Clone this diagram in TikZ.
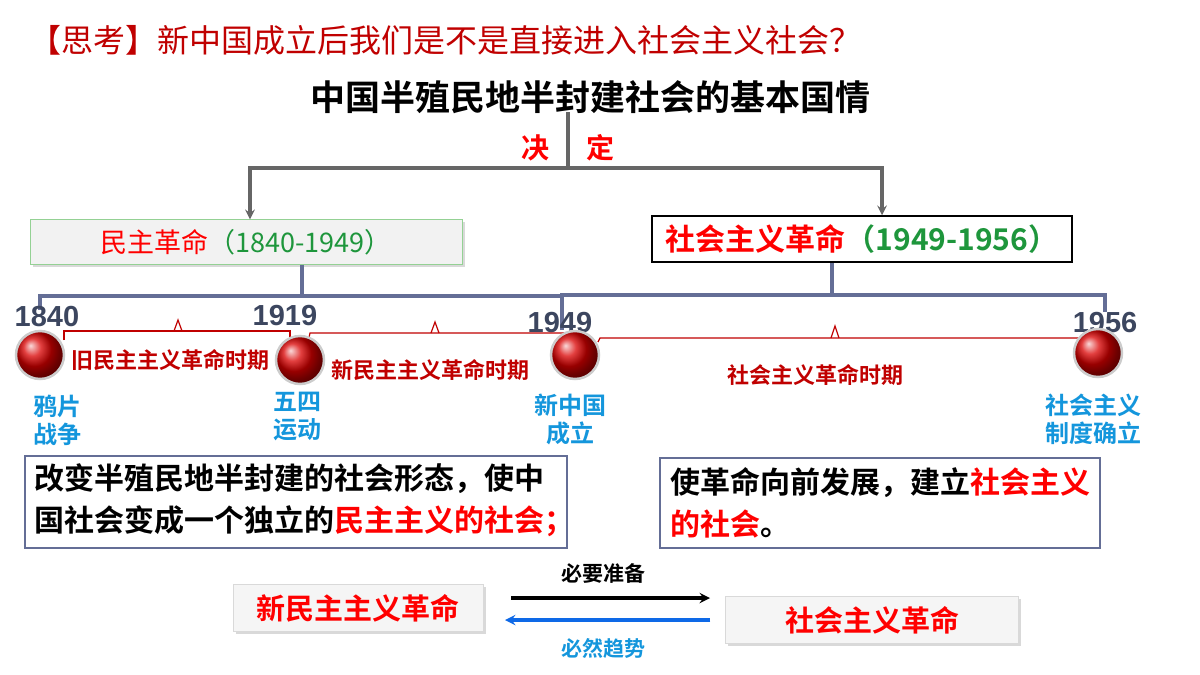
\documentclass[tikz,border=0pt]{standalone}
\usetikzlibrary{shadows}
\usepackage{fontspec}
\setmainfont{Noto Sans CJK SC}
\newfontfamily\cjkb{Noto Sans CJK SC Bold}
\newfontfamily\latb{Liberation Sans Bold}
\definecolor{dred}{RGB}{192,0,0}
\definecolor{slate}{RGB}{100,110,150}
\definecolor{yr}{RGB}{60,70,95}
\definecolor{evb}{RGB}{20,150,220}
\definecolor{grn}{RGB}{30,150,60}
\begin{document}
\begin{tikzpicture}[x=1pt,y=-1pt,
  bline/.style={slate,line width=3.2pt},
  gline/.style={gray!80!black,line width=3.2pt},
  rb/.style={dred,line width=1.2pt},
  dot/.style={circle,minimum size=48pt,inner sep=0pt,ball color=red!85!black,shading=ball,draw=gray!40,line width=2.5pt},
  yrl/.style={font=\latb\fontsize{29}{29}\selectfont,text=yr},
  per/.style={font=\cjkb\fontsize{22}{22}\selectfont,text=dred},
  ev/.style={font=\cjkb\fontsize{24}{28}\selectfont,text=evb,align=center},
  txt/.style={font=\cjkb\fontsize{30}{42}\selectfont,align=left,anchor=north west}]
\useasboundingbox (0,0) rectangle (1200,675);
% title
\node[anchor=west,text=dred,font=\fontsize{32}{32}\selectfont] (t) at (26,40) {【思考】新中国成立后我们是不是直接进入社会主义社会？};
\node[font=\cjkb\fontsize{35}{35}\selectfont] (h) at (590,97) {中国半殖民地半封建社会的基本国情};
\node[text=red,font=\cjkb\fontsize{28}{28}\selectfont] (j) at (535,148) {决};
\node[text=red,font=\cjkb\fontsize{28}{28}\selectfont] (d) at (600,148) {定};
% boxes
\node[draw=green!40!gray!60,fill=gray!10,minimum width=432pt,minimum height=45pt,inner sep=0pt,
  drop shadow={opacity=0.3}] (L) at (246,242) {\fontsize{27}{27}\selectfont\textcolor{red}{民主革命}\textcolor{grn}{（1840-1949）}};
\node[draw=black,line width=1.5pt,fill=white,minimum width=420pt,minimum height=46pt,inner sep=0pt] (R) at (862,239) {\cjkb\fontsize{30}{30}\selectfont\textcolor{red}{社会主义革命}\textcolor{grn}{（1949-1956）}};
\coordinate (hb) at (568,112);
\draw[gline] (hb) -- (568,168) coordinate (hj);
\draw[gline,-stealth] (hj) -| (L.north -| 250,0);
\draw[gline,-stealth] (hj) -| (R.north -| 882,0);
% bracket lines
\draw[bline] (L.south -| 302,0) -- (302,296);
\draw[bline] (40,310) -- (40,296) -- (562,296);
\draw[bline] (R.south -| 832,0) -- (832,295);
\draw[bline] (562,330) -- (562,295) -- (1105,295) -- (1105,312);
% years
\node[yrl] (y1) at (47,317) {1840};
\node[yrl] (y2) at (285,316) {1919};
\node[yrl] (y3) at (560,323) {1949};
\node[yrl] (y4) at (1105,323) {1956};
% red braces
\draw[rb] (64,340) -- (64,331) -- (290,331) -- (290,340);
\draw[rb] (174,331) -- (178,320) -- (182,331);
\draw[rb] (308,342) -- (310,333) -- (565,333) -- (565,342);
\draw[rb] (431,333) -- (435,322) -- (439,333);
\draw[rb] (598,342) -- (600,338) -- (1080,338) -- (1080,345);
\draw[rb] (831,338) -- (835,326) -- (839,338);
% dots
\node[dot] (c1) at (40,355) {};
\node[dot] (c2) at (300,360) {};
\node[dot] (c3) at (575,355) {};
\node[dot] (c4) at (1098,353) {};
% periods
\node[per] (p1) at (170,360) {旧民主主义革命时期};
\node[per] (p2) at (430,370) {新民主主义革命时期};
\node[per] (p3) at (815,375) {社会主义革命时期};
% events
\node[ev] (e1) at (57,420) {鸦片\\战争};
\node[ev] (e2) at (297,417) {五四\\运动};
\node[ev] (e3) at (570,419) {新中国\\成立};
\node[ev] (e4) at (1093,419) {社会主义\\制度确立};
% text boxes
\draw[slate,line width=1.5pt,fill=white] (25,456) rectangle (567,548);
\node[txt] (b1) at (31,460) {改变半殖民地半封建的社会形态，使中\\国社会变成一个独立的\textcolor{red}{民主主义的社会；}};
\draw[slate,line width=1.5pt,fill=white] (660,458) rectangle (1100,548);
\node[txt] (b2) at (667,464) {使革命向前发展，建立\textcolor{red}{社会主义}\\\textcolor{red}{的社会}。};
% bottom
\node[fill=gray!8,draw=gray!30,minimum width=250pt,minimum height=47pt,inner sep=0pt,drop shadow={opacity=0.3},
  font=\cjkb\fontsize{29}{29}\selectfont,text=red] (n1) at (358,608) {新民主主义革命};
\node[fill=gray!8,draw=gray!30,minimum width=293pt,minimum height=47pt,inner sep=0pt,drop shadow={opacity=0.3},
  font=\cjkb\fontsize{29}{29}\selectfont,text=red] (n2) at (872,620) {社会主义革命};
\draw[black,line width=3.5pt,-stealth] (n1.east |- 0,598) ++(28,0) -- (710,598);
\draw[evb!70!blue,line width=3.5pt,-stealth] (n2.west |- 0,620) ++(-15,0) -- (505,620);
\node[font=\cjkb\fontsize{21}{21}\selectfont] (l1) at (603,573) {必要准备};
\node[font=\cjkb\fontsize{21}{21}\selectfont,text=evb] (l2) at (603,648) {必然趋势};
\end{tikzpicture}
\end{document}
